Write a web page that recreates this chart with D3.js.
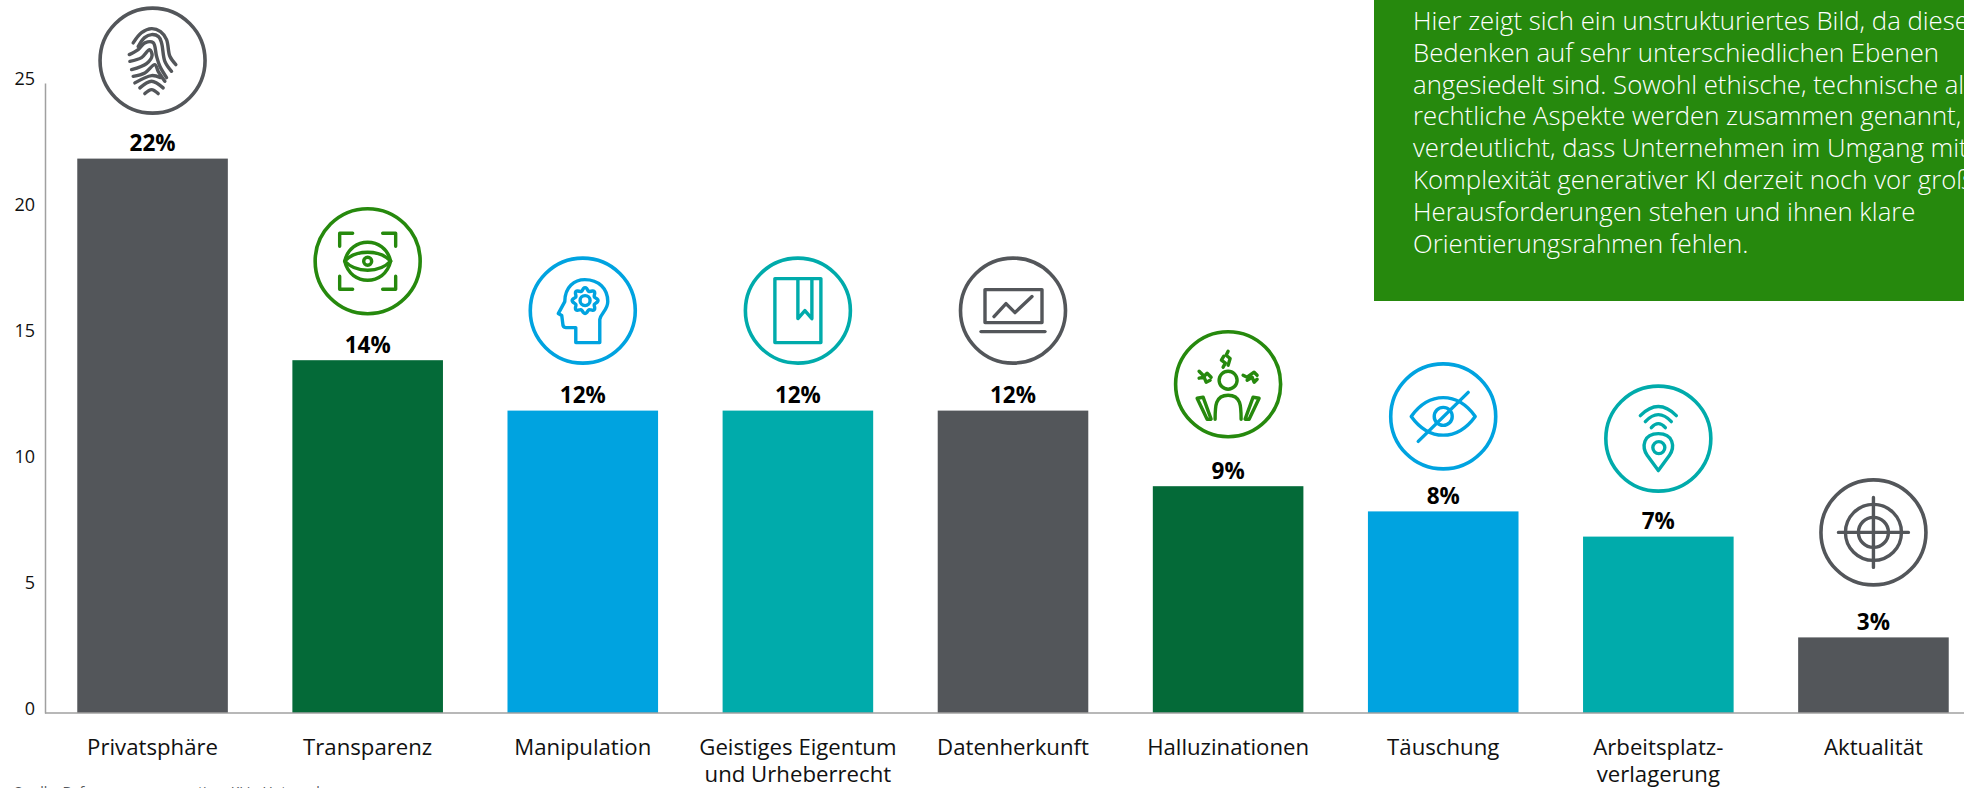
<!DOCTYPE html>
<html>
<head>
<meta charset="utf-8">
<script src="https://cdn.jsdelivr.net/npm/d3@7"></script>
<style>
html, body { margin: 0; padding: 0; background: #fff; overflow: hidden; }
svg { display: block; }
text { font-family: "Open Sans", "Noto Sans", sans-serif; }
</style>
</head>
<body>
<div id="chart"></div>
<script>
const categories = ['Privatsphäre', 'Transparenz', 'Manipulation', 'Geistiges Eigentum', 'Datenherkunft', 'Halluzinationen', 'Täuschung', 'Arbeitsplatz-', 'Aktualität'];
const categoryLine2 = ['', '', '', 'und Urheberrecht', '', '', '', 'verlagerung', ''];
const shares = [22, 14, 12, 12, 12, 9, 8, 7, 3];
const yTicks = [0, 5, 10, 15, 20, 25];
const barColors = ['#53565a', '#046a38', '#00a3e0', '#00abab', '#53565a', '#046a38', '#00a3e0', '#00abab', '#53565a'];
const iconColors = ['#53565a', '#26890d', '#00a3e0', '#00abab', '#53565a', '#26890d', '#00a3e0', '#00abab', '#53565a'];
const iconNames = ['finger', 'eyeScan', 'head', 'book', 'laptop', 'stress', 'eyeOff', 'pin', 'target'];
const boxLines = [
    'Hier zeigt sich ein unstrukturiertes Bild, da diese',
    'Bedenken auf sehr unterschiedlichen Ebenen',
    'angesiedelt sind. Sowohl ethische, technische als auch',
    'rechtliche Aspekte werden zusammen genannt, was',
    'verdeutlicht, dass Unternehmen im Umgang mit der',
    'Komplexität generativer KI derzeit noch vor großen',
    'Herausforderungen stehen und ihnen klare',
    'Orientierungsrahmen fehlen.'
];

const width = 1964, height = 788;
const svg = d3.select('#chart').append('svg').attr('width', width).attr('height', height);

var x = d3.scaleBand().domain(categories).range([45, 1981]).paddingInner(0.3).paddingOuter(0.15);
var y = d3.scaleLinear().domain([0, 25]).range([713, 83]);

// y axis, labels sit a little above their tick like in the original
var yAxis = d3.axisLeft(y).tickValues(yTicks).tickSize(0).tickPadding(10);
var yG = svg.append('g').attr('transform', 'translate(45,0)').call(yAxis);
yG.select('.domain').attr('stroke', '#a0a0a0').attr('stroke-width', 1.5);
yG.selectAll('text').attr('dy', '0.32em').attr('y', -4).style('font-size', '18px').style('fill', '#111').style('font-family', '"Open Sans"');

svg.selectAll('rect.bar').data(categories).enter().append('rect')
    .attr('class', 'bar')
    .attr('x', d => x(d))
    .attr('y', (d, i) => y(shares[i]))
    .attr('width', x.bandwidth())
    .attr('height', (d, i) => y(0) - y(shares[i]))
    .attr('fill', (d, i) => barColors[i]);

svg.append('line').attr('x1', 45).attr('x2', width).attr('y1', y(0)).attr('y2', y(0))
    .attr('stroke', '#a0a0a0').attr('stroke-width', 1.5);

svg.selectAll('text.value').data(categories).enter().append('text')
    .attr('class', 'value')
    .attr('x', d => x(d) + x.bandwidth() / 2)
    .attr('y', (d, i) => y(shares[i]) - 7.5)
    .attr('text-anchor', 'middle')
    .style('font-size', '22.5px').style('font-weight', 700).style('fill', '#000')
    .text((d, i) => shares[i] + '%');

svg.selectAll('text.cat').data(categories).enter().append('text')
    .attr('class', 'cat')
    .attr('x', d => x(d) + x.bandwidth() / 2)
    .attr('y', 755)
    .attr('text-anchor', 'middle')
    .style('font-size', '22.2px').style('fill', '#111')
    .text(d => d);

svg.selectAll('text.cat2').data(categories.filter((d, i) => categoryLine2[i])).enter().append('text')
    .attr('class', 'cat2')
    .attr('x', d => x(d) + x.bandwidth() / 2)
    .attr('y', 782)
    .attr('text-anchor', 'middle')
    .style('font-size', '22.2px').style('fill', '#111')
    .text(d => categoryLine2[categories.indexOf(d)]);

// green text box, runs off the right side of the page
svg.append('rect').attr('x', 1374).attr('y', 0).attr('width', 590).attr('height', 301).attr('fill', '#26890d');
svg.selectAll('text.box').data(boxLines).enter().append('text')
    .attr('class', 'box')
    .attr('x', 1413)
    .attr('y', (d, i) => 30 + i * 31.8)
    .style('font-size', '25.75px').style('font-weight', 300).style('fill', '#fff')
    .text(d => d);

// footnote is cut by the bottom edge, only the tops of the letters show
svg.append('text').attr('x', 13).attr('y', 797).style('font-size', '14px').style('fill', '#53565a')
    .text('Quelle: Befragung zu generativer KI in Unternehmen');

// how far each icon centre sits above its bar top
const iconLift = [98, 99, 100, 100, 100, 102, 95, 98, 105];

const smooth = d3.line().curve(d3.curveCatmullRom);
const fingerLines = [
    [[-19.4, -17.7], [-11, -28], [-1, -32], [8, -29], [14, -21], [17.3, -4.3], [23.3, 4]],
    [[-14.4, -14], [-8, -23], [-1, -26], [6, -24], [9, -17.7], [12.3, 0.7], [19, 10.7]],
    [[-23.3, -6], [-14.4, -11], [-7.7, -17.7], [0.6, -18], [4, -4.3], [7.3, 5.7], [14, 17]],
    [[-22.7, 0.7], [-11, -3], [-3, -11], [-0.5, -5], [-6, 3], [-21, 9]],
    [[-19.4, 15.7], [-7.7, 12.3], [2.3, 4], [5.6, 10.7], [12.3, 20.7]],
    [[-17.7, 22.3], [-1, 15], [8, 17]],
    [[-12.7, 27.3], [-1, 20.7], [10.6, 27.3]],
    [[-7.7, 33], [-1, 29], [5.6, 33]]
];

// scalloped gear ring for the head icon
const gearPoints = d3.range(0, 48).map(k => {
    var a = k / 48 * 2 * Math.PI;
    return [a, 11.5 + 1.8 * Math.cos(8 * a)];
});
const gearPath = d3.lineRadial().curve(d3.curveBasisClosed)(gearPoints);

const icons = {
    finger: fingerLines.map(p => smooth(p)),
    eyeScan: [
        'M-28,-15 V-28 H-15 M15,-28 H28 V-15 M-28,15 V28 H-15 M15,28 H28 V15',
        'M-23,0 C-20,-13 -10,-19 0,-19 C10,-19 20,-13 23,0 C20,13 10,19 0,19 C-10,19 -20,13 -23,0 Z',
        'M-23,0 C-12,-12 12,-12 23,0 C12,12 -12,12 -23,0 Z'
    ],
    head: [
        'M-7,32 V17 H-17 Q-20,17 -20,13 L-21,5 L-24.5,3 L-18,-9 C-18,-24 -8,-31 2,-31 C16,-31 25,-22 25,-9 C25,0 18,2 17,9 V32 Z'
    ],
    book: [
        'M-23,-32 H23 V32 H-23 Z',
        'M0,-32 V8 L7,0 L14,8 V-32'
    ],
    laptop: [
        'M-28,-21 H29 V12 H-28 Z',
        'M-32,21 H32',
        'M-19,6 L-7,-7 L2,2 L19,-14'
    ],
    stress: [
        'M-4.3,-28 L-6.7,-24 L-2.7,-21 L-5,-17',
        'M0,-33 L-2,-29 L2,-25.7 L0,-19',
        'M-29,-13 L-24,-8 L-21,-11 L-17,-7',
        'M-29,-6 L-24,-7 L-22,-2 L-18,-4',
        'M15,-9 L19,-7 L26,-12 L29,-9',
        'M19,-4 L24,-7 L26,-2 L29,-5',
        'M-31,14 L-25,13 L-17,35 L-21,35 Z',
        'M31,14 L25,13 L17,35 L21,35 Z',
        'M-13,35 C-13,22 -13,11 0,11 C13,11 13,22 13,35'
    ],
    eyeOff: [
        'M-32,0 C-14,-25 14,-25 32,0 C14,25 -14,25 -32,0 Z',
        'M25,-24 L-25,25'
    ],
    pin: [
        'M-18,-23 Q0,-41 18,-23',
        'M-13,-17 Q0,-31 13,-17',
        'M-7,-11 Q0,-19 7,-11',
        'M0,32 L-11,17 C-17,8 -15,-5 0,-5 C15,-5 17,8 11,17 Z'
    ],
    target: [
        'M-35,0 H35 M0,-35 V35'
    ]
};
const iconCircles = {
    eyeScan: [[0, 0, 4]],
    head: [[2.3, -10, 5]],
    stress: [[0, -4, 9]],
    eyeOff: [[0, 0, 9]],
    pin: [[0.5, 9, 6]],
    target: [[0, 0, 15], [0, 0, 28]]
};

const iconG = svg.selectAll('g.icon').data(categories).enter().append('g')
    .attr('class', 'icon')
    .attr('transform', (d, i) => 'translate(' + (x(d) + x.bandwidth() / 2) + ',' + (y(shares[i]) - iconLift[i]) + ')')
    .attr('fill', 'none')
    .attr('stroke', (d, i) => iconColors[i])
    .attr('stroke-linecap', 'round')
    .attr('stroke-linejoin', 'round');

iconG.append('circle').attr('r', 52.5).attr('stroke-width', 3.6);

iconG.each(function (d, i) {
    var g = d3.select(this);
    var name = iconNames[i];
    g.selectAll('path').data(icons[name]).enter().append('path')
        .attr('d', p => p).attr('stroke-width', 3.4);
    g.selectAll('circle.inner').data(iconCircles[name] || []).enter().append('circle')
        .attr('class', 'inner')
        .attr('cx', c => c[0]).attr('cy', c => c[1]).attr('r', c => c[2])
        .attr('stroke-width', 3.4);
    if (name == 'head') {
        g.append('path').attr('d', gearPath).attr('transform', 'translate(2.3,-10)').attr('stroke-width', 3.4);
    }
});
</script>
</body>
</html>
